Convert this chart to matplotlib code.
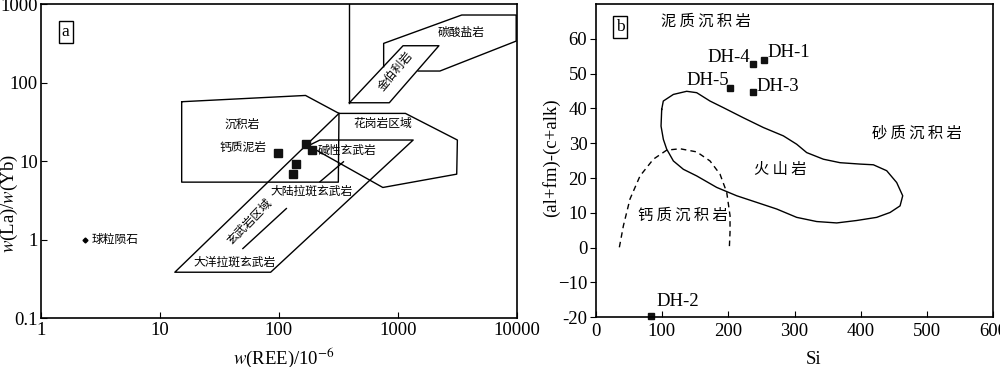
import matplotlib
matplotlib.use("Agg")
import matplotlib.pyplot as plt
import numpy as np

plt.rcParams["font.family"] = ["Liberation Serif", "Noto Sans CJK SC"]
plt.rcParams["mathtext.fontset"] = "stix"
CJK = ["Noto Sans CJK SC", "DejaVu Sans"]

# ---- panel a: w(REE) vs w(La)/w(Yb) ----
ree_pts = [98.7, 169, 191, 141, 133]
layb_pts = [12.7, 16.7, 13.8, 9.04, 6.87]
chondrite = (2.35, 1.0)

carb_x = [762, 762, 3451, 9900, 9900, 2264, 1486]
carb_y = [159, 315, 724, 724, 337, 140, 140]
kimb_x = [393, 1109, 2220, 850, 393]
kimb_y = [55.2, 294, 294, 55.2, 55.2]
vline_x = [393, 393]
vline_y = [1000, 55.2]
sed_x = [15.3, 168, 321, 317, 15.3, 15.3]
sed_y = [56.9, 68.4, 40.4, 5.38, 5.38, 56.9]
gran_x = [321, 1161, 3173, 3133, 750, 180]
gran_y = [40.4, 40.4, 18.5, 6.80, 4.60, 15.5]
bas_x = [321, 13.4, 85.6, 1349, 222, 160]
bas_y = [40.4, 0.383, 0.383, 18.5, 18.5, 14.5]
rift_x = [222, 350]
rift_y = [5.43, 9.77]
short_x = [50, 116]
short_y = [0.767, 2.48]

labels_a = [
    ("碳酸盐岩", 3388, 430, 0),
    ("金伯利岩", 955, 141, 50),
    ("沉积岩", 49, 29.2, 0),
    ("钙质泥岩", 50.6, 15.0, 0),
    ("花岗岩区域", 752, 30.1, 0),
    ("碱性玄武岩", 378, 13.5, 0),
    ("大陆拉斑玄武岩", 189, 4.09, 0),
    ("玄武岩区域", 56.9, 1.68, 46),
    ("大洋拉斑玄武岩", 42.5, 0.508, 0),
]

# ---- panel b: Si vs (al+fm)-(c+alk) ----
samples = ["DH-1", "DH-4", "DH-5", "DH-3", "DH-2"]
si = [254.5, 237, 202.7, 237, 83.4]
alfm = [54.0, 52.7, 45.8, 44.7, -19.5]
lab_x = [259, 233, 201, 243, 92]
lab_y = [56.1, 54.5, 48.0, 46.2, -15.6]
lab_ha = ["left", "right", "right", "left", "left"]

volc_x = [99.6, 102, 117.2, 137.3, 152.4, 172.5, 192.7, 222.8, 253.0, 283.2,
          303.3, 318.4, 343.6, 368.7, 398.9, 419.0, 439.1, 454.2, 463.3, 459.3,
          444.2, 424.0, 393.9, 363.7, 333.5, 303.3, 273.1, 243.0, 212.8, 182.6,
          152.4, 132.3, 117.2, 107.1, 102.1, 98.6, 99.6]
volc_y = [39.7, 42.1, 44.0, 44.9, 44.5, 42.1, 40.2, 37.3, 34.5, 32.1,
          29.7, 27.3, 25.4, 24.4, 24.0, 23.8, 22.1, 18.7, 14.9, 12.0,
          10.1, 8.7, 7.8, 7.1, 7.5, 8.7, 11.1, 13.0, 14.9, 17.3,
          20.6, 22.5, 24.9, 28.3, 31.1, 34.9, 39.7]
calc_x = [35.7, 41.8, 51.8, 66.9, 87.0, 107.1, 127.3, 152.4, 172.5, 187.6,
          197.7, 202.7, 202.7, 201.7]
calc_y = [0.1, 6.3, 14.0, 20.6, 25.4, 28.0, 28.4, 27.5, 24.9, 21.1,
          15.9, 9.2, 4.4, 0.1]

labels_b = [
    ("泥质沉积岩", 166, 65.0),
    ("砂质沉积岩", 484, 33.0),
    ("火山岩", 278, 22.5),
    ("钙质沉积岩", 132, 9.2),
]

fig = plt.figure(figsize=(10, 3.67), dpi=100)
lw = 1.0
box = dict(boxstyle="square,pad=0.18", fc="white", ec="black", lw=1)

ax = fig.add_axes([0.0407, 0.1335, 0.476, 0.8556])
ax.set_xscale("log")
ax.set_yscale("log")
ax.set_xlim(1, 10000)
ax.set_ylim(0.1, 1000)
for xs, ys in [(carb_x, carb_y), (kimb_x, kimb_y), (vline_x, vline_y),
               (sed_x, sed_y), (gran_x, gran_y), (bas_x, bas_y),
               (rift_x, rift_y), (short_x, short_y)]:
    ax.plot(xs, ys, color="black", lw=lw)
ax.plot(ree_pts, layb_pts, "s", color="#111111", ms=5.5)
ax.plot(*chondrite, "D", color="black", ms=2.5)
ax.text(2.7, 1.0, "球粒陨石", family=CJK, fontsize=8.5, va="center", ha="left")
for txt, x, y, rot in labels_a:
    ax.text(x, y, txt, family=CJK, fontsize=8.5, ha="center", va="center",
            rotation=rot)
ax.text(0.0525, 0.91, "a", transform=ax.transAxes, fontsize=12.5,
        ha="center", va="center", bbox=box)
ax.set_xticks([1, 10, 100, 1000, 10000])
ax.set_xticklabels(["1", "10", "100", "1000", "10000"])
ax.set_yticks([0.1, 1, 10, 100, 1000])
ax.set_yticklabels(["0.1", "1", "10", "100", "1000"])
ax.minorticks_off()
ax.tick_params(direction="in", length=4, labelsize=13.5, pad=3)
ax.tick_params(axis="y", pad=2)
ax.set_xlabel(r"$w$(REE)/10$^{-6}$", fontsize=13.5, va="center")
ax.xaxis.set_label_coords(0.511, -0.127)
ax.set_ylabel(r"$w$(La)/$w$(Yb)", fontsize=13.5, va="center")
ax.yaxis.set_label_coords(-0.066, 0.366)
for s in ax.spines.values():
    s.set_linewidth(1.2)

bx = fig.add_axes([0.5957, 0.1354, 0.3976, 0.8540])
bx.set_xlim(0, 600)
bx.set_ylim(-20, 70)
bx.plot(volc_x, volc_y, color="black", lw=lw)
bx.plot(calc_x, calc_y, color="black", lw=lw, ls=(0, (4, 3)))
bx.plot(si, alfm, "s", color="#111111", ms=4.5, clip_on=False)
for name, x, y, ha in zip(samples, lab_x, lab_y, lab_ha):
    bx.text(x, y, name, fontsize=13.5, ha=ha, va="center")
for txt, x, y in labels_b:
    bx.text(x, y, " ".join(txt), family=CJK, fontsize=11, ha="center",
            va="center")
bx.text(0.061, 0.926, "b", transform=bx.transAxes, fontsize=12.5,
        ha="center", va="center", bbox=box)
bx.set_xticks([0, 100, 200, 300, 400, 500, 600])
bx.set_yticks([-20, -10, 0, 10, 20, 30, 40, 50, 60])
bx.set_yticklabels(["-20", "\u221210", "0", "10", "20", "30", "40", "50", "60"])
bx.tick_params(axis="x", direction="in", length=4, labelsize=13.5, pad=4)
bx.tick_params(axis="y", direction="out", length=4, labelsize=13.5, pad=2)
bx.set_xlabel("Si", fontsize=13.5, va="center")
bx.xaxis.set_label_coords(0.547, -0.136)
bx.set_ylabel("(al+fm)-(c+alk)", fontsize=13.5, va="center")
bx.yaxis.set_label_coords(-0.111, 0.508)
for s in bx.spines.values():
    s.set_linewidth(1.2)

fig.savefig("out.png", dpi=100)
